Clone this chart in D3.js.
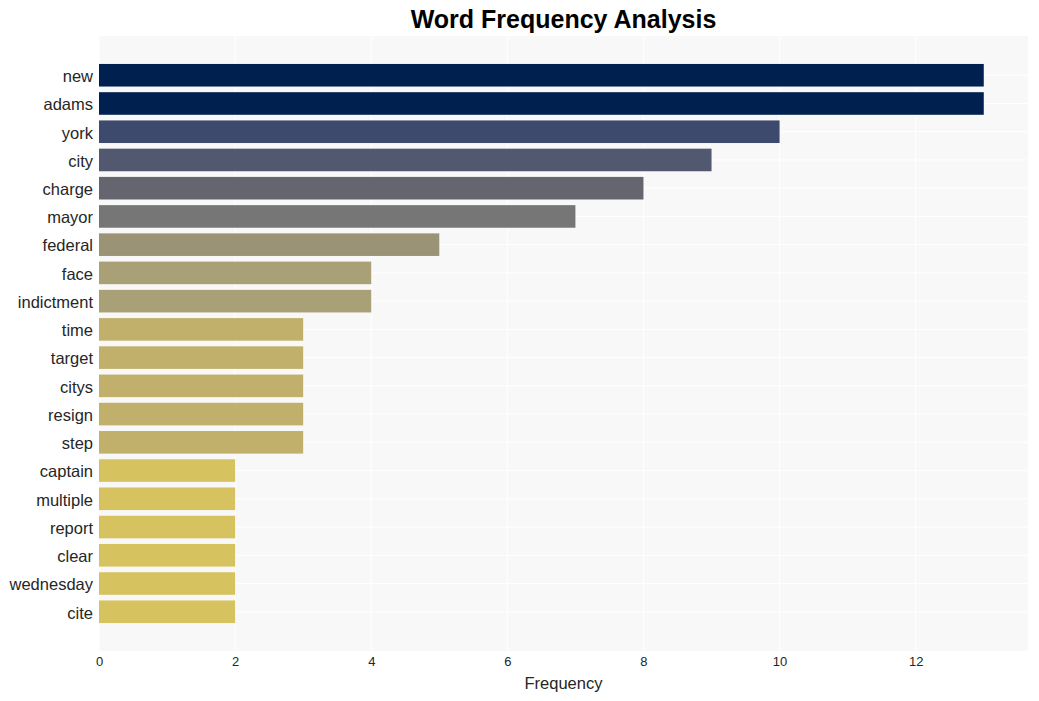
<!DOCTYPE html>
<html><head><meta charset="utf-8">
<script src="https://cdn.jsdelivr.net/npm/d3@7"></script>
<style>body{margin:0;background:#fff}</style>
</head><body><svg id="c" width="1039" height="701"></svg>
<script>
const words = ["new","adams","york","city","charge","mayor","federal","face","indictment","time","target","citys","resign","step","captain","multiple","report","clear","wednesday","cite"];
const freqs = [13,13,10,9,8,7,5,4,4,3,3,3,3,3,2,2,2,2,2,2];
const xTicks = [0,2,4,6,8,10,12];
const colorValues = [13,10,9,8,7,5,4,3,2];
const colorRange = ["#00204f","#3d4a6e","#51586f","#64656f","#777676","#9a9376","#aaa077","#c1b06b","#d6c360"];

const svg = d3.select("#c");
const m = {l:99, r:1028, t:36, b:651};
const n = words.length;
const y = d3.scaleLinear().domain([-0.4-0.99, n-1+0.4+0.99]).range([m.t, m.b]);
const x = d3.scaleLinear().domain([0, 13*1.05]).range([m.l, m.r]);
const color = d3.scaleOrdinal().domain(colorValues).range(colorRange);
const font = "Liberation Sans, Arial, sans-serif";

svg.append("rect").attr("x",m.l).attr("y",m.t).attr("width",m.r-m.l).attr("height",m.b-m.t).attr("fill","#f8f8f8");
const g = svg.append("g");
g.selectAll(".vg").data(xTicks).join("line").attr("x1",d=>x(d)).attr("x2",d=>x(d)).attr("y1",m.t).attr("y2",m.b).attr("stroke","#fff").attr("stroke-width",1);
g.selectAll(".hg").data(words).join("line").attr("x1",m.l).attr("x2",m.r).attr("y1",(d,i)=>y(i)).attr("y2",(d,i)=>y(i)).attr("stroke","#fff").attr("stroke-width",1);

svg.selectAll(".bar").data(freqs).join("rect")
  .attr("x",x(0)).attr("y",(d,i)=>y(i-0.4)).attr("width",d=>x(d)-x(0)).attr("height",(d,i)=>y(i+0.4)-y(i-0.4))
  .attr("fill",d=>color(d));

const ya = d3.axisLeft(d3.scaleOrdinal().domain(words).range(words.map((w,i)=>y(i)))).tickSize(0).tickPadding(6);
const yg = svg.append("g").attr("transform",`translate(${m.l},1)`).call(ya);
yg.select(".domain").remove();
yg.selectAll("text").attr("font-family",font).attr("font-size",16.5).attr("fill","#262626");

const xa = d3.axisBottom(x).tickValues(xTicks).tickSize(0).tickPadding(6);
const xg = svg.append("g").attr("transform",`translate(0,${m.b})`).call(xa);
xg.select(".domain").remove();
xg.selectAll("text").attr("font-family",font).attr("font-size",13).attr("fill","#262626");

svg.append("text").attr("x",(m.l+m.r)/2).attr("y",689).attr("text-anchor","middle")
  .attr("font-family",font).attr("font-size",16.5).attr("fill","#262626").text("Frequency");
svg.append("text").attr("x",(m.l+m.r)/2).attr("y",28).attr("text-anchor","middle")
  .attr("font-family",font).attr("font-weight","bold").attr("font-size",25).attr("fill","#000").text("Word Frequency Analysis");
</script></body></html>
